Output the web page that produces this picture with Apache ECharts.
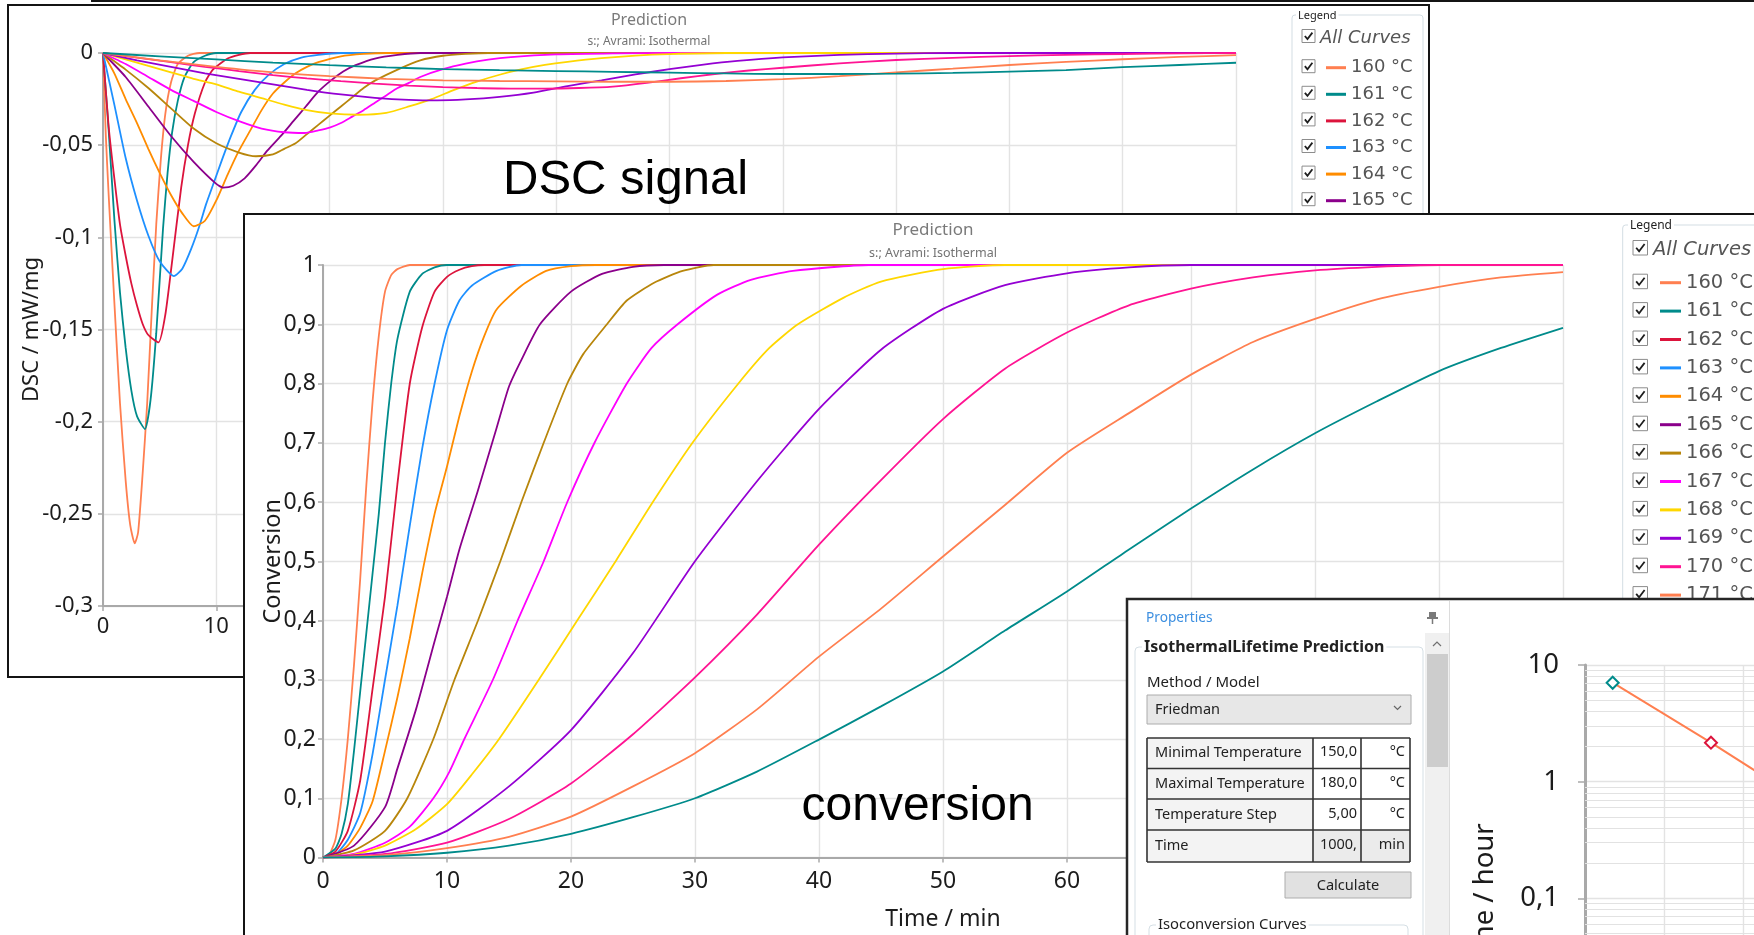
<!DOCTYPE html>
<html>
<head>
<meta charset="utf-8">
<title>Isothermal prediction</title>
<script src="https://cdn.jsdelivr.net/npm/echarts@6/dist/echarts.min.js"></script>
<style>
  html, body { margin: 0; padding: 0; background: #ffffff; }
  #chart { width: 1754px; height: 935px; }
</style>
</head>
<body>
<div id="chart"></div>
<script>
// Isothermal curves: labels and colours
const curveNames = ['160 °C', '161 °C', '162 °C', '163 °C', '164 °C', '165 °C', '166 °C',
  '167 °C', '168 °C', '169 °C', '170 °C', '171 °C', '172 °C'];
const curveColors = ['#FF7F50', '#008B8B', '#DC143C', '#1E90FF', '#FF8C00', '#8B008B', '#B8860B',
  '#FF00FF', '#FFD700', '#9400D3', '#FF1493', '#FF7F50', '#008B8B'];

// DSC signal per temperature: [time / min, DSC / mW/mg]
const dsc160 = [[0,0],[0.25,-0.045],[0.5,-0.077],[1,-0.135],[1.5,-0.19],[2,-0.232],[2.4,-0.256],[2.8,-0.266],[3.1,-0.26],[3.5,-0.228],[3.9,-0.19],[4.3,-0.14],[4.7,-0.093],[5.1,-0.058],[5.5,-0.033],[6,-0.016],[6.6,-0.006],[7.5,-0.0015],[8.5,0],[100,0]];
const dsc161 = [[0,0],[0.5,-0.042],[1,-0.09],[1.5,-0.13],[2,-0.16],[2.5,-0.183],[3,-0.197],[3.7,-0.204],[4.2,-0.188],[4.7,-0.152],[5.3,-0.095],[5.7,-0.065],[6.1,-0.043],[6.6,-0.026],[7.2,-0.013],[8,-0.005],[9,-0.0015],[10,0],[100,0]];
const dsc162 = [[0,0],[0.5,-0.04],[1,-0.068],[1.5,-0.093],[2,-0.11],[2.5,-0.125],[3,-0.137],[3.5,-0.147],[4,-0.153],[4.9,-0.157],[5.5,-0.142],[6.1,-0.113],[6.9,-0.073],[7.5,-0.05],[8.1,-0.033],[9,-0.016],[9.7,-0.009],[11,-0.003],[12,-0.001],[13,0],[100,0]];
const dsc163 = [[0,0],[1,-0.028],[2,-0.057],[3,-0.08],[4,-0.099],[5,-0.113],[6.25,-0.121],[7,-0.117],[7.8,-0.106],[8.5,-0.094],[9.1,-0.082],[9.8,-0.07],[10.5,-0.058],[11.3,-0.045],[12.2,-0.032],[13.4,-0.02],[14.6,-0.012],[16,-0.006],[17.5,-0.0025],[19,-0.001],[21,0],[100,0]];
const dsc164 = [[0,0],[1,-0.011],[2,-0.025],[3,-0.038],[4,-0.052],[5,-0.065],[6,-0.077],[7,-0.087],[8,-0.094],[9,-0.091],[10,-0.08],[11,-0.066],[12,-0.053],[13,-0.042],[14,-0.031],[15,-0.022],[16,-0.016],[17,-0.011],[18,-0.0075],[19,-0.005],[21,-0.0018],[23,-0.0005],[25,0],[100,0]];
const dsc165 = [[0,0],[2,-0.013],[4,-0.029],[6,-0.045],[8,-0.059],[10,-0.071],[10.6,-0.073],[11.5,-0.072],[12.5,-0.068],[13.5,-0.061],[14.5,-0.053],[15.7,-0.045],[16.8,-0.037],[17.9,-0.029],[19,-0.021],[20.1,-0.015],[21.2,-0.01],[22.3,-0.0066],[24,-0.003],[26,-0.001],[28,0],[100,0]];
const dsc166 = [[0,0],[2,-0.009],[4,-0.019],[6,-0.03],[8,-0.041],[10,-0.049],[12,-0.054],[13.5,-0.056],[15,-0.055],[16,-0.052],[17,-0.049],[18,-0.044],[19,-0.039],[20,-0.034],[21,-0.029],[22,-0.024],[23,-0.019],[24,-0.015],[26,-0.009],[28,-0.004],[30,-0.0015],[32,-0.0005],[34,0],[100,0]];
const dsc167 = [[0,0],[2,-0.006],[4,-0.013],[6,-0.02],[8,-0.026],[10,-0.032],[12,-0.037],[14,-0.041],[16,-0.043],[17.8,-0.0434],[19,-0.042],[20,-0.0405],[21,-0.038],[22,-0.0345],[23,-0.031],[24,-0.027],[25,-0.023],[26,-0.019],[27,-0.0162],[28,-0.013],[30,-0.0088],[32,-0.0058],[34,-0.0036],[36,-0.0022],[40,-0.0008],[45,-0.0002],[50,0],[100,0]];
const dsc168 = [[0,0],[2,-0.0034],[4,-0.007],[6,-0.0105],[8,-0.014],[10,-0.017],[12,-0.021],[14,-0.0245],[16,-0.028],[18,-0.031],[20,-0.0328],[22.6,-0.0335],[25,-0.0325],[27,-0.029],[29,-0.025],[31,-0.02],[33,-0.0155],[35,-0.0118],[37,-0.0088],[39,-0.0065],[41,-0.0048],[44,-0.0028],[47,-0.0014],[50,-0.0006],[55,0],[100,0]];
const dsc169 = [[0,0],[3,-0.004],[6,-0.0075],[9,-0.011],[12,-0.014],[15,-0.017],[18,-0.02],[21,-0.0225],[24,-0.0243],[27,-0.0254],[29.5,-0.0257],[32,-0.0252],[35,-0.0238],[38,-0.0215],[41,-0.018],[44,-0.0148],[47,-0.0116],[50,-0.0088],[53,-0.0063],[56,-0.0043],[60,-0.0024],[65,-0.001],[70,-0.0003],[75,0],[100,0]];
const dsc170 = [[0,0],[3,-0.0025],[6,-0.005],[9,-0.0075],[12,-0.0098],[15,-0.012],[18,-0.0138],[21,-0.0153],[24,-0.0166],[27,-0.0177],[30,-0.0185],[33,-0.019],[36,-0.0193],[39,-0.0193],[42,-0.019],[45,-0.0182],[48,-0.0162],[51,-0.0137],[54,-0.0114],[57,-0.0095],[60,-0.008],[65,-0.0056],[70,-0.0038],[75,-0.0026],[80,-0.0017],[85,-0.001],[90,-0.0006],[95,-0.0002],[100,0]];
const dsc171 = [[0,0],[5,-0.004],[10,-0.0075],[15,-0.0105],[20,-0.0125],[25,-0.014],[30,-0.0148],[35,-0.0152],[40,-0.0154],[45,-0.0156],[50,-0.0156],[55,-0.0152],[60,-0.0142],[65,-0.0126],[70,-0.0105],[75,-0.0085],[80,-0.0065],[85,-0.0048],[90,-0.0034],[95,-0.0021],[100,-0.0012]];
const dsc172 = [[0,0],[5,-0.0018],[10,-0.0035],[15,-0.0052],[20,-0.0066],[25,-0.0078],[30,-0.0087],[35,-0.0093],[40,-0.0098],[45,-0.0102],[50,-0.0107],[55,-0.0111],[60,-0.0114],[65,-0.0114],[70,-0.0112],[75,-0.0108],[80,-0.0101],[85,-0.0093],[90,-0.0077],[95,-0.0065],[100,-0.0053]];

// Conversion per temperature: [time / min, conversion]
const conv160 = [[0,0],[0.5,0.005],[1,0.03],[1.5,0.1],[2,0.2],[2.5,0.325],[3,0.47],[3.5,0.63],[4,0.77],[4.5,0.88],[5,0.955],[5.5,0.983],[6,0.993],[7,1],[100,1]];
const conv161 = [[0,0],[1,0.015],[1.5,0.04],[2,0.09],[2.5,0.18],[3,0.28],[3.5,0.38],[4,0.48],[4.5,0.58],[5,0.7],[5.5,0.8],[6,0.875],[7,0.955],[8,0.985],[9,0.996],[10,1],[100,1]];
const conv162 = [[0,0],[1,0.01],[2,0.045],[3,0.13],[4,0.285],[5,0.44],[6,0.63],[7,0.8],[8,0.895],[9,0.955],[10,0.98],[11,0.992],[12,0.998],[13,1],[100,1]];
const conv163 = [[0,0],[1,0.005],[2,0.03],[3,0.075],[4,0.175],[5,0.3],[6,0.425],[7,0.56],[8,0.69],[9,0.8],[10,0.89],[11,0.94],[12,0.965],[14,0.99],[16,1],[100,1]];
const conv164 = [[0,0],[1,0.005],[2,0.02],[3,0.05],[4,0.095],[5,0.18],[6,0.27],[7,0.37],[8,0.48],[9,0.58],[10,0.66],[11,0.745],[12,0.82],[13,0.88],[14,0.925],[16,0.965],[18,0.99],[20,0.998],[22,1],[100,1]];
const conv165 = [[0,0],[2.5,0.02],[5,0.085],[6,0.15],[7.5,0.25],[9,0.365],[10,0.44],[11,0.52],[12.5,0.62],[14,0.725],[15,0.795],[16,0.84],[17.5,0.9],[20,0.955],[22.5,0.985],[25,0.997],[27.5,1],[100,1]];
const conv166 = [[0,0],[2.5,0.012],[5,0.045],[6.8,0.1],[8.9,0.2],[10.6,0.3],[12.5,0.4],[14.3,0.5],[16,0.6],[17.8,0.7],[19.7,0.8],[21,0.85],[22.9,0.9],[24.5,0.94],[26.7,0.97],[29,0.99],[31.5,1],[100,1]];
const conv167 = [[0,0],[2.5,0.006],[5,0.025],[7,0.052],[8.9,0.1],[10.2,0.145],[11.4,0.2],[13.7,0.3],[15.7,0.4],[17.8,0.5],[19.7,0.6],[21.9,0.7],[24.5,0.8],[26.5,0.86],[28.6,0.9],[31.8,0.95],[34.5,0.975],[37.9,0.99],[44,1],[100,1]];
const conv168 = [[0,0],[2.5,0.005],[5,0.02],[7.5,0.048],[10,0.09],[12,0.14],[14.2,0.2],[17.4,0.3],[20.5,0.4],[23.6,0.5],[26.6,0.6],[29.8,0.7],[33.5,0.8],[36,0.86],[38.3,0.9],[42,0.945],[45,0.972],[50,0.993],[55,1],[100,1]];
const conv169 = [[0,0],[5,0.01],[10,0.045],[15,0.12],[20,0.215],[25,0.345],[30,0.5],[35,0.635],[40,0.757],[45,0.857],[50,0.926],[55,0.966],[60,0.986],[65,0.996],[70,1],[100,1]];
const conv170 = [[0,0],[5,0.006],[10,0.025],[15,0.065],[20,0.125],[25,0.208],[30,0.304],[35,0.41],[40,0.528],[45,0.637],[50,0.74],[55,0.825],[60,0.886],[65,0.932],[70,0.96],[75,0.979],[80,0.991],[85,0.997],[90,1],[100,1]];
const conv171 = [[0,0],[5,0.004],[10,0.016],[15,0.035],[20,0.069],[25,0.12],[30,0.176],[35,0.25],[40,0.339],[45,0.42],[50,0.508],[55,0.595],[60,0.683],[65,0.75],[70,0.815],[75,0.87],[80,0.909],[85,0.942],[90,0.963],[95,0.979],[100,0.988]];
const conv172 = [[0,0],[5,0.002],[10,0.008],[15,0.02],[20,0.04],[25,0.068],[30,0.1],[35,0.145],[40,0.199],[45,0.255],[50,0.314],[55,0.383],[60,0.449],[65,0.52],[70,0.589],[75,0.655],[80,0.716],[85,0.77],[90,0.821],[95,0.86],[100,0.894]];

// Isothermal lifetime prediction
const lifetimeTemps = [150, 155, 160];
const lifetimeHours = [7.05, 2.16, 0.63];
const lifetimeMarkerColors = ['#008B8B', '#DC143C', '#1E90FF'];

// Properties table
const propLabels = ['Minimal Temperature', 'Maximal Temperature', 'Temperature Step', 'Time'];
const propValues = ['150,0', '180,0', '5,00', '1000,'];
const propUnits = ['°C', '°C', '°C', 'min'];

const dscCurves = [dsc160, dsc161, dsc162, dsc163, dsc164, dsc165, dsc166, dsc167, dsc168, dsc169, dsc170, dsc171, dsc172];
const convCurves = [conv160, conv161, conv162, conv163, conv164, conv165, conv166, conv167, conv168, conv169, conv170, conv171, conv172];

// ---------------------------------------------------------------------------
const SANS = "'Noto Sans', 'DejaVu Sans', sans-serif";
const AXIS_GRAY = '#a9a9a9';
const GRID_GRAY = '#e3e3e3';
const LABEL_COLOR = '#1c1c1c';

function commaNum(v) {
  return String(parseFloat(Number(v).toFixed(6))).replace('.', ',');
}

function axisStyle(zlevel, fontSize, margin, tickLen) {
  return {
    zlevel: zlevel,
    axisLine: { show: true, onZero: false, lineStyle: { color: AXIS_GRAY, width: 2 } },
    axisTick: { show: true, length: tickLen, lineStyle: { color: AXIS_GRAY, width: 1.5 } },
    axisLabel: { margin: margin, fontFamily: SANS, fontSize: fontSize, color: LABEL_COLOR, formatter: commaNum },
    splitLine: { show: true, lineStyle: { color: GRID_GRAY, width: 1.4 } },
    nameLocation: 'middle',
    nameMoveOverlap: false,
    nameTextStyle: { fontFamily: SANS, fontSize: fontSize, color: LABEL_COLOR }
  };
}

// ---------------------------------------------------------------------------
// Graphic helpers
function rect(x, y, w, h, style, zlevel, z, r) {
  return { type: 'rect', shape: { x: x, y: y, width: w, height: h, r: r || 0 }, style: style, zlevel: zlevel, z: z, silent: true };
}
function seg(x1, y1, x2, y2, stroke, width, zlevel, z) {
  return { type: 'line', shape: { x1: x1, y1: y1, x2: x2, y2: y2 }, style: { stroke: stroke, lineWidth: width }, zlevel: zlevel, z: z, silent: true };
}
function poly(points, stroke, width, zlevel, z) {
  return { type: 'polyline', shape: { points: points }, style: { stroke: stroke, lineWidth: width, fill: null }, zlevel: zlevel, z: z, silent: true };
}
function txt(x, y, s, font, fill, zlevel, opts) {
  opts = opts || {};
  const align = opts.align || 'left';
  const style = { x: x, y: y, text: s, font: font, fill: fill,
    align: align, verticalAlign: 'middle', textAlign: align, textVerticalAlign: 'middle' };
  if (opts.bg) { style.backgroundColor = opts.bg; style.padding = opts.padding || [0, 3]; }
  return { type: 'text', style: style, zlevel: zlevel, z: opts.z || 20, silent: true };
}
function checkbox(x, y, s, zlevel) {
  return [
    rect(x, y, s, s, { fill: '#ffffff', stroke: '#8c8c8c', lineWidth: 1 }, zlevel, 10),
    poly([[x + s * 0.22, y + s * 0.5], [x + s * 0.42, y + s * 0.74], [x + s * 0.8, y + s * 0.24]], '#1e1e1e', 1.8, zlevel, 11)
  ];
}

const graphics = [];

// Panel 1: DSC signal window
graphics.push(rect(91, 0, 1663, 2, { fill: '#141414' }, 0, -20));
graphics.push(rect(8, 5, 1421, 672, { fill: '#ffffff', stroke: '#141414', lineWidth: 2 }, 0, -10));
graphics.push(txt(503, 180, 'DSC signal', "49px 'Liberation Sans', Arial, sans-serif", '#000000', 0, { z: 30 }));
graphics.push(rect(1292, 15, 131, 260, { fill: 'none', stroke: '#d3dde3', lineWidth: 1 }, 0, 5, 3));
graphics.push(txt(1296, 15.5, 'Legend', "11px " + SANS, '#222222', 0, { bg: '#ffffff', padding: [0, 2] }));
graphics.push(...checkbox(1302, 29.5, 13, 0));
graphics.push(txt(1320, 38, 'All Curves', "italic 18px 'DejaVu Sans', sans-serif", '#555555', 0));
curveNames.forEach(function (n, i) {
  graphics.push(...checkbox(1302, 67.7 + 26.6 * i - 8, 13, 0));
});

// Panel 2: conversion window
graphics.push(rect(244, 214, 1520, 730, { fill: '#ffffff', stroke: '#141414', lineWidth: 2 }, 1, -10));
graphics.push(txt(801.5, 806.4, 'conversion', "48px 'Liberation Sans', Arial, sans-serif", '#000000', 1, { z: 30 }));
graphics.push(rect(1622.7, 225, 200, 400, { fill: 'none', stroke: '#d3dde3', lineWidth: 1 }, 1, 5, 3));
graphics.push(txt(1628, 226, 'Legend', "12px " + SANS, '#222222', 1, { bg: '#ffffff', padding: [0, 2] }));
graphics.push(...checkbox(1633, 240.5, 14.5, 1));
graphics.push(txt(1653, 250, 'All Curves', "italic 19.5px 'DejaVu Sans', sans-serif", '#555555', 1));
curveNames.forEach(function (n, i) {
  graphics.push(...checkbox(1633, 282.7 + 28.4 * i - 8.5, 14.5, 1));
});

// Panel 3: properties side bar and lifetime plot
graphics.push(rect(1127, 599, 640, 345, { fill: '#ffffff', stroke: '#262626', lineWidth: 2.5 }, 2, -10));
graphics.push(seg(1449.5, 601, 1449.5, 935, '#dcdcdc', 1, 2, -5));
graphics.push(rect(1425, 633, 24, 310, { fill: '#f0f0f0' }, 2, -5));
graphics.push(rect(1427, 654, 21, 113, { fill: '#cdcdcd' }, 2, -4));
graphics.push(poly([[1433, 646], [1437, 642], [1441, 646]], '#707070', 1.2, 2, -4));
graphics.push(txt(1146, 618.5, 'Properties', "13.7px " + SANS, '#3d8fe0', 2));
graphics.push(rect(1429, 612, 7, 6, { fill: '#7a7a7a' }, 2, 5));
graphics.push(rect(1427, 617, 11, 2, { fill: '#7a7a7a' }, 2, 5));
graphics.push(seg(1432.5, 619, 1432.5, 624, '#7a7a7a', 1.5, 2, 5));

graphics.push(rect(1135, 647, 288, 320, { fill: 'none', stroke: '#d5dfe5', lineWidth: 1 }, 2, -4, 4));
graphics.push(txt(1142, 647.5, 'IsothermalLifetime Prediction', "bold 16px " + SANS, '#222222', 2, { bg: '#ffffff', padding: [0, 2] }));
graphics.push(txt(1147, 683, 'Method / Model', "15px " + SANS, '#222222', 2));
graphics.push(rect(1147, 695, 264, 29, { fill: '#e7e7e7', stroke: '#acacac', lineWidth: 1 }, 2, -3));
graphics.push(txt(1155, 710, 'Friedman', "14.5px " + SANS, '#222222', 2));
graphics.push(poly([[1394, 706], [1397.5, 709.5], [1401, 706]], '#666666', 1.2, 2, 5));

const rowY = [738, 768.5, 799, 830, 862];
const colX = [1147, 1313, 1361, 1410];
propLabels.forEach(function (label, r) {
  const y0 = rowY[r], h = rowY[r + 1] - rowY[r], cy = y0 + h / 2;
  graphics.push(rect(colX[0], y0, colX[1] - colX[0], h, { fill: '#f3f3f3' }, 2, -3));
  graphics.push(rect(colX[1], y0, colX[2] - colX[1], h, { fill: r === 3 ? '#ebebeb' : '#ffffff' }, 2, -3));
  graphics.push(rect(colX[2], y0, colX[3] - colX[2], h, { fill: r === 3 ? '#ebebeb' : '#ffffff' }, 2, -3));
  graphics.push(txt(1155, cy, label, "14.5px " + SANS, '#222222', 2));
  graphics.push(txt(1357, cy - 1, propValues[r], "14.5px " + SANS, '#222222', 2, { align: 'right' }));
  graphics.push(txt(1405, cy - 1, propUnits[r], "14.5px " + SANS, '#222222', 2, { align: 'right' }));
});
rowY.forEach(function (y) { graphics.push(seg(colX[0], y, colX[3], y, '#333333', 1.6, 2, 1)); });
colX.forEach(function (x) { graphics.push(seg(x, rowY[0], x, rowY[4], '#333333', 1.6, 2, 1)); });

graphics.push(rect(1285, 872, 126, 26, { fill: '#e1e1e1', stroke: '#adadad', lineWidth: 1 }, 2, -3));
graphics.push(txt(1348, 885.5, 'Calculate', "14.6px " + SANS, '#222222', 2, { align: 'center' }));
graphics.push(rect(1149, 925, 259, 80, { fill: 'none', stroke: '#d5dfe5', lineWidth: 1 }, 2, -3, 4));
graphics.push(txt(1156, 925, 'Isoconversion Curves', "14.8px " + SANS, '#222222', 2, { bg: '#ffffff', padding: [0, 2] }));

// ---------------------------------------------------------------------------
// Series
const series = [];
dscCurves.forEach(function (d, i) {
  series.push({
    type: 'line', name: curveNames[i], xAxisIndex: 0, yAxisIndex: 0, data: d,
    symbol: 'none', showSymbol: false, smooth: 0.2, zlevel: 0, z: 2, silent: true,
    lineStyle: { color: curveColors[i], width: 1.8 }, itemStyle: { color: curveColors[i] }
  });
});
convCurves.forEach(function (d, i) {
  series.push({
    type: 'line', name: curveNames[i], xAxisIndex: 1, yAxisIndex: 1, data: d,
    symbol: 'none', showSymbol: false, smooth: 0.2, zlevel: 1, z: 2, silent: true,
    lineStyle: { color: curveColors[i], width: 1.8 }, itemStyle: { color: curveColors[i] }
  });
});

// log-axis minor grid lines (2..9 within each decade)
const minorLines = [];
for (let e = -3; e <= 0; e++) {
  for (let k = 2; k <= 9; k++) minorLines.push({ yAxis: parseFloat((k * Math.pow(10, e)).toPrecision(3)) });
}
series.push({
  type: 'line', name: 'Lifetime', xAxisIndex: 2, yAxisIndex: 2, zlevel: 2, z: 3, silent: true,
  data: lifetimeTemps.map(function (t, i) {
    return { value: [t, lifetimeHours[i]], itemStyle: { borderColor: lifetimeMarkerColors[i] } };
  }),
  symbol: 'diamond', symbolSize: 12, showSymbol: true, showAllSymbol: true,
  itemStyle: { color: '#ffffff', borderWidth: 2 },
  lineStyle: { color: '#FF7F50', width: 2 },
  markLine: {
    silent: true, symbol: 'none', zlevel: 2, z: 1, animation: false,
    label: { show: false }, emphasis: { disabled: true },
    lineStyle: { color: '#e2e2e2', width: 1.2, type: 'solid' },
    data: minorLines
  }
});

// ---------------------------------------------------------------------------
const dscX = Object.assign(axisStyle(0, 22, 10, 5), {
  gridIndex: 0, type: 'value', min: 0, max: 100, interval: 10, name: 'Time / min', nameGap: 42 });
const dscY = Object.assign(axisStyle(0, 22, 10, 5), {
  gridIndex: 0, type: 'value', min: -0.3, max: 0, interval: 0.05, name: 'DSC / mW/mg', nameGap: 60 });
const convX = Object.assign(axisStyle(1, 23, 12, 5), {
  gridIndex: 1, type: 'value', min: 0, max: 100, interval: 10, name: 'Time / min', nameGap: 50 });
const convY = Object.assign(axisStyle(1, 23, 7, 5), {
  gridIndex: 1, type: 'value', min: 0, max: 1, interval: 0.1, name: 'Conversion', nameGap: 38 });
convY.nameTextStyle = { fontFamily: SANS, fontSize: 23.5, color: LABEL_COLOR };
const lifeX = Object.assign(axisStyle(2, 22, 10, 5), {
  gridIndex: 2, type: 'value', min: 148.592, max: 188.752, interval: 4.016, name: 'Temperature / °C', nameGap: 45 });
lifeX.axisLabel.show = false;
const lifeY = Object.assign(axisStyle(2, 27.5, 26, 7), {
  gridIndex: 2, type: 'log', logBase: 10, min: 0.001, max: 10, name: 'Time / hour', nameGap: 86 });
lifeY.axisLine.lineStyle.width = 3;
lifeY.nameTextStyle = { fontFamily: SANS, fontSize: 27.5, color: LABEL_COLOR };

const legendText = { fontFamily: "'DejaVu Sans', sans-serif", color: '#555555' };

const option = {
  animation: false,
  backgroundColor: '#ffffff',
  title: [
    { zlevel: 0, text: 'Prediction', subtext: 's:; Avrami: Isothermal', left: 649, top: 12, textAlign: 'center',
      padding: 0, itemGap: 8,
      textStyle: { fontFamily: SANS, fontSize: 16, fontWeight: 'normal', color: '#7a7a7a' },
      subtextStyle: { fontFamily: SANS, fontSize: 12, color: '#727272' } },
    { zlevel: 1, text: 'Prediction', subtext: 's:; Avrami: Isothermal', left: 933, top: 221.5, textAlign: 'center',
      padding: 0, itemGap: 8,
      textStyle: { fontFamily: SANS, fontSize: 17, fontWeight: 'normal', color: '#7a7a7a' },
      subtextStyle: { fontFamily: SANS, fontSize: 12.5, color: '#727272' } }
  ],
  legend: [
    { zlevel: 0, z: 4, orient: 'vertical', left: 1326, top: 57.7, padding: 0, itemGap: 6.6,
      itemWidth: 20, itemHeight: 3, icon: 'rect', selectedMode: false, data: curveNames,
      itemStyle: { borderWidth: 0 },
      textStyle: Object.assign({ fontSize: 18, lineHeight: 20 }, legendText) },
    { zlevel: 1, z: 4, orient: 'vertical', left: 1660, top: 271.7, padding: 0, itemGap: 6.4,
      itemWidth: 21, itemHeight: 3, icon: 'rect', selectedMode: false, data: curveNames,
      itemStyle: { borderWidth: 0 },
      textStyle: Object.assign({ fontSize: 19.5, lineHeight: 22 }, legendText) }
  ],
  grid: [
    { zlevel: 0, left: 103, top: 53, width: 1133, height: 553, show: false, containLabel: false, outerBoundsMode: 'none' },
    { zlevel: 1, left: 323, top: 265, width: 1240, height: 592.5, show: false, containLabel: false, outerBoundsMode: 'none' },
    { zlevel: 2, left: 1585, top: 665, width: 789.5, height: 466.8, show: false, containLabel: false, outerBoundsMode: 'none' }
  ],
  xAxis: [dscX, convX, lifeX],
  yAxis: [dscY, convY, lifeY],
  graphic: { elements: graphics },
  series: series
};

const chart = echarts.init(document.getElementById('chart'), null, { renderer: 'canvas', width: 1754, height: 935 });
chart.setOption(option);
</script>
</body>
</html>
